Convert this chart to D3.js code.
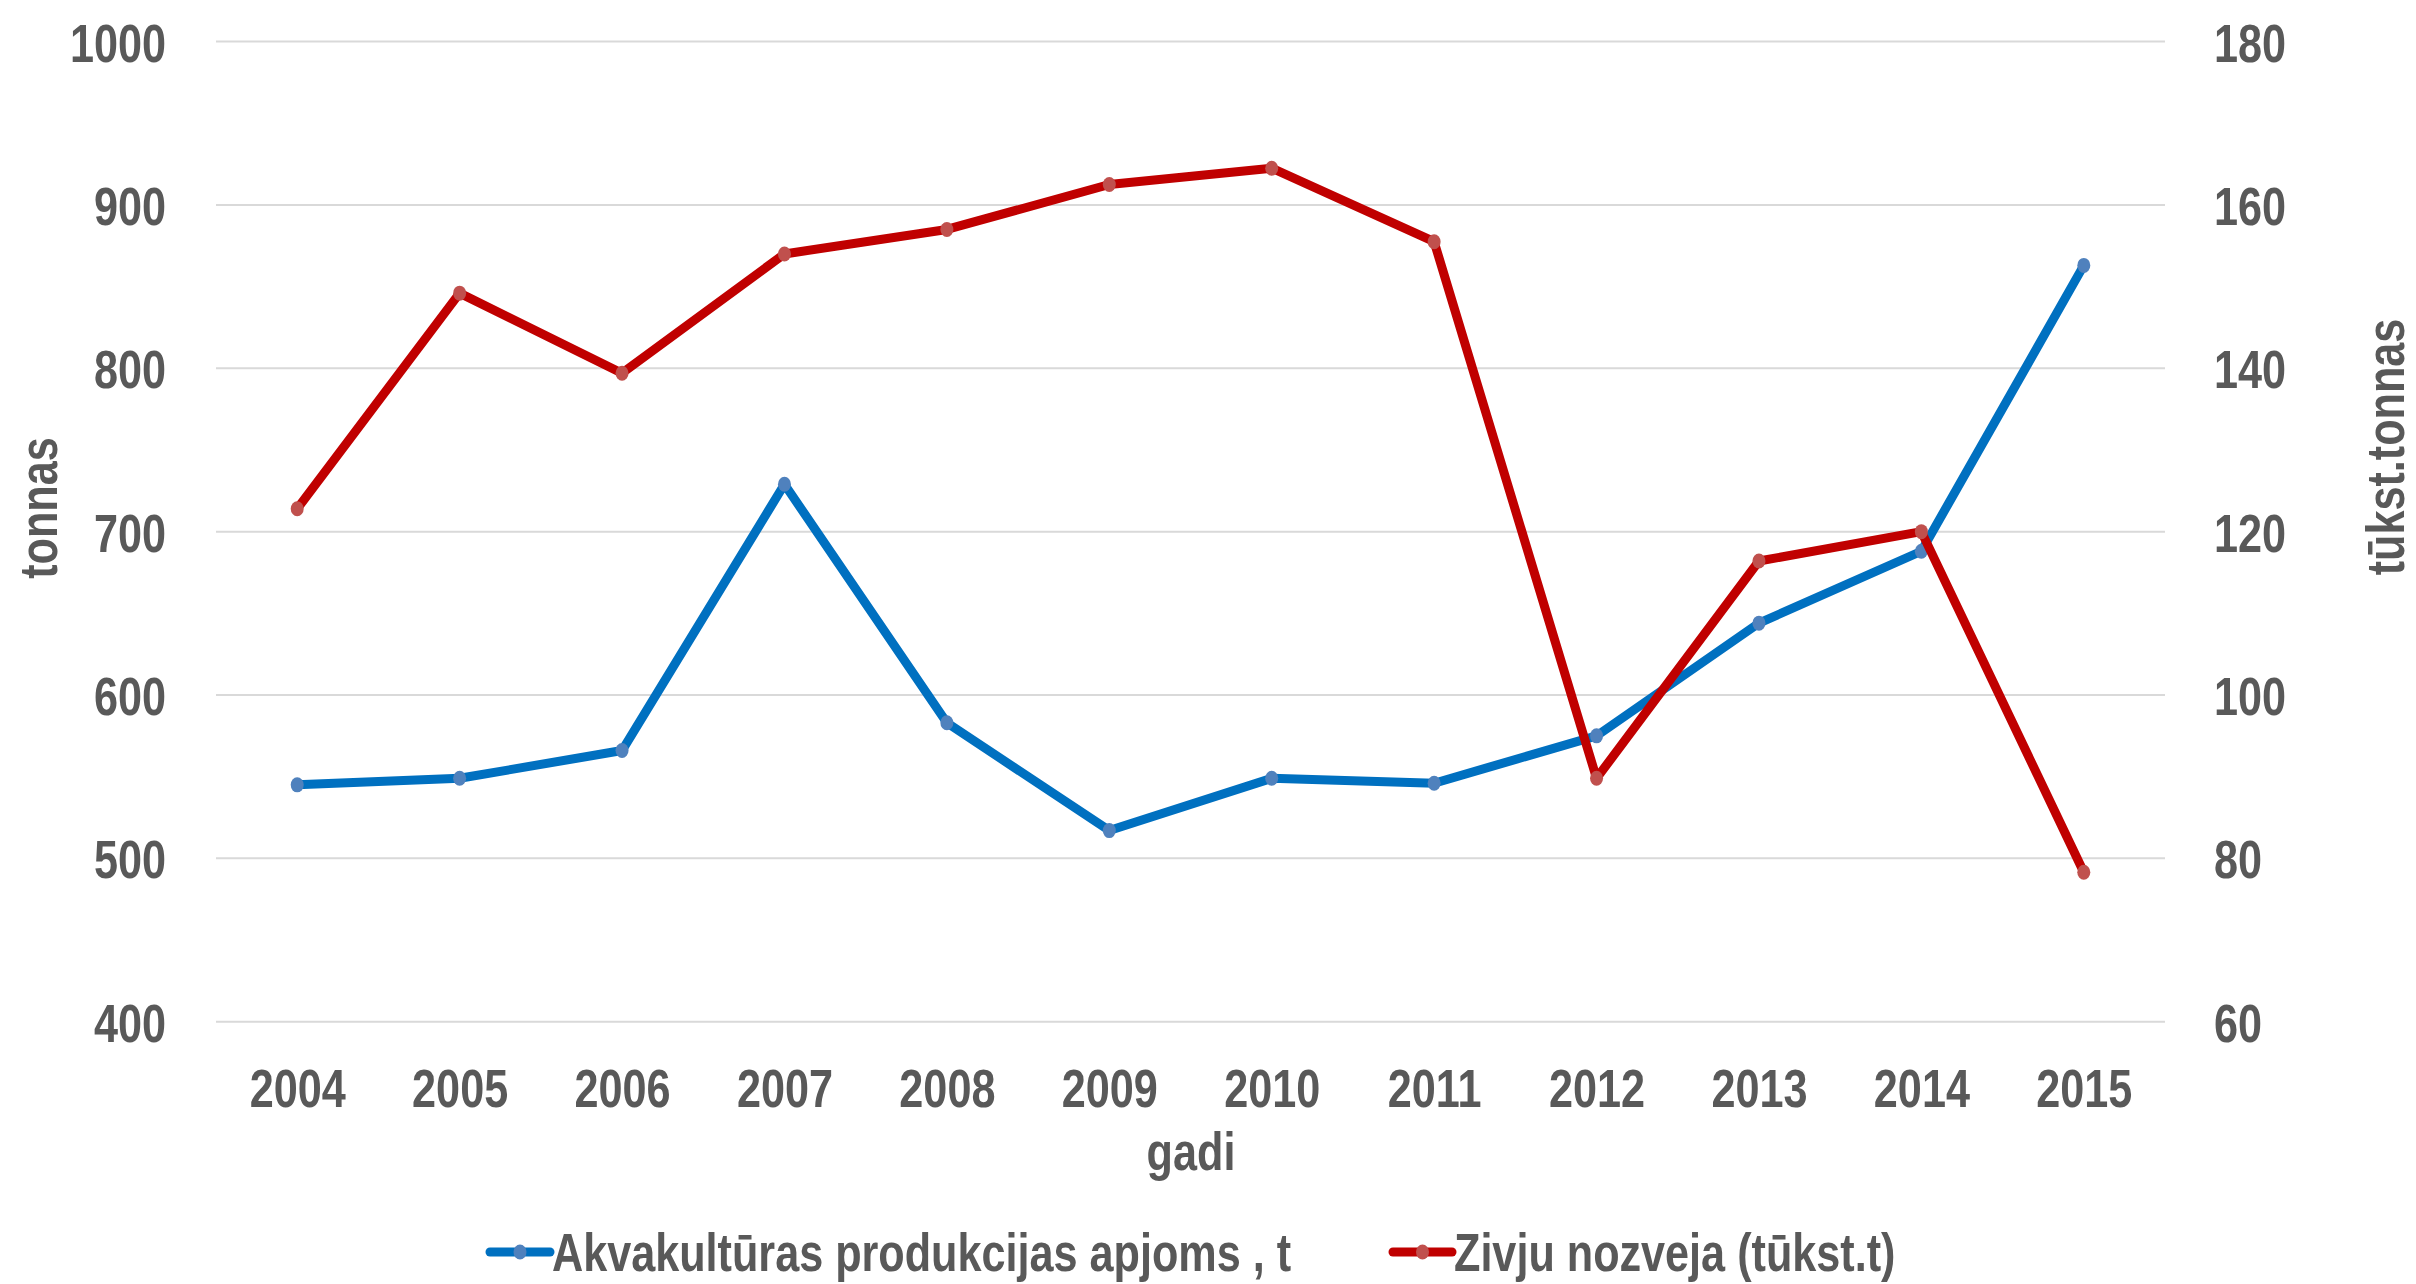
<!DOCTYPE html>
<html><head><meta charset="utf-8">
<script src="https://cdn.jsdelivr.net/npm/d3@7"></script>
<style>
html,body{margin:0;padding:0;background:#fff;}
svg text{font-family:"Liberation Sans",Arial,sans-serif;font-weight:bold;fill:#595959;}
</style></head>
<body>
<svg id="c" width="2416" height="1284"></svg>
<script>
const years = ["2004","2005","2006","2007","2008","2009","2010","2011","2012","2013","2014","2015"];
const aquaculture = [545, 549, 566, 729, 583, 517, 549, 546, 575, 644, 688, 863];
const fishCatch = [122.8, 149.2, 139.4, 154, 157, 162.5, 164.5, 155.5, 89.8, 116.4, 120, 78.3];
const leftTicks = [400, 500, 600, 700, 800, 900, 1000];
const rightTicks = [60, 80, 100, 120, 140, 160, 180];
const seriesNames = ["Akvakultūras produkcijas apjoms , t", "Zivju nozveja (tūkst.t)"];
const axisTitles = {left: "tonnas", right: "tūkst.tonnas", bottom: "gadi"};

const m = {left: 216, right: 2165, top: 41.6, bottom: 1021.7};
const SX = 0.8, FS = 54;
const svg = d3.select("#c");

const x = d3.scalePoint().domain(years).range([m.left, m.right]).padding(0.5);
const yL = d3.scaleLinear().domain([400, 1000]).range([m.bottom, m.top]);
const yR = d3.scaleLinear().domain([60, 180]).range([m.bottom, m.top]);

// gridlines
svg.append("g").selectAll("line").data(leftTicks).join("line")
  .attr("x1", m.left).attr("x2", m.right)
  .attr("y1", d => yL(d)).attr("y2", d => yL(d))
  .attr("stroke", "#d9d9d9").attr("stroke-width", 2);

// left axis
const gl = svg.append("g").attr("transform", `translate(166,0)`)
  .call(d3.axisLeft(yL).tickValues(leftTicks).tickFormat(d3.format("d")).tickSize(0).tickPadding(0));
gl.select(".domain").remove();
gl.selectAll("text").attr("x", 0).attr("dy", "0.36em")
  .attr("transform", `scale(${SX},1)`).style("font-size", FS + "px").attr("fill", "#595959");

// right axis
const gr = svg.append("g").attr("transform", `translate(2214,0)`)
  .call(d3.axisRight(yR).tickValues(rightTicks).tickFormat(d3.format("d")).tickSize(0).tickPadding(0));
gr.select(".domain").remove();
gr.selectAll("text").attr("x", 0).attr("dy", "0.36em")
  .attr("transform", `scale(${SX},1)`).style("font-size", FS + "px").attr("fill", "#595959");

// bottom axis
const gb = svg.append("g").attr("transform", `translate(0,1107)`)
  .call(d3.axisBottom(x).tickSize(0).tickPadding(0));
gb.select(".domain").remove();
gb.selectAll("text").attr("y", 0).attr("dy", "0")
  .attr("transform", `scale(${SX},1)`).style("font-size", FS + "px").attr("fill", "#595959");

// axis titles
svg.append("text").attr("transform", `translate(57,508) rotate(-90) scale(${SX},1)`)
  .attr("text-anchor", "middle").style("font-size", FS + "px").text(axisTitles.left);
svg.append("text").attr("transform", `translate(2404,447) rotate(-90) scale(${SX},1)`)
  .attr("text-anchor", "middle").style("font-size", FS + "px").text(axisTitles.right);
svg.append("text").attr("transform", `translate(1191,1170) scale(${SX},1)`)
  .attr("text-anchor", "middle").style("font-size", FS + "px").text(axisTitles.bottom);

// lines
const series = [
  {vals: aquaculture, y: yL, line: "#0070c0", mark: "#4f81bd"},
  {vals: fishCatch, y: yR, line: "#c00000", mark: "#c0504d"}
];
series.forEach(s => {
  const lg = d3.line().x((d, i) => x(years[i])).y(d => s.y(d));
  svg.append("path").attr("d", lg(s.vals)).attr("fill", "none")
    .attr("stroke", s.line).attr("stroke-width", 9).attr("stroke-linejoin", "round").attr("stroke-linecap", "round");
  svg.append("g").selectAll("ellipse").data(s.vals).join("ellipse")
    .attr("cx", (d, i) => x(years[i])).attr("cy", d => s.y(d))
    .attr("rx", 6.5).attr("ry", 7.5).attr("fill", s.mark);
});

// legend
const legendItems = [
  {x0: 490, x1: 550, tx: 552, name: seriesNames[0], s: series[0]},
  {x0: 1393, x1: 1452, tx: 1454, name: seriesNames[1], s: series[1]}
];
legendItems.forEach(l => {
  svg.append("line").attr("x1", l.x0).attr("x2", l.x1).attr("y1", 1252).attr("y2", 1252)
    .attr("stroke", l.s.line).attr("stroke-width", 9).attr("stroke-linecap", "round");
  svg.append("ellipse").attr("cx", (l.x0 + l.x1) / 2).attr("cy", 1252).attr("rx", 6.5).attr("ry", 7.5).attr("fill", l.s.mark);
  svg.append("text").attr("transform", `translate(${l.tx},1271) scale(${SX},1)`)
    .style("font-size", FS + "px").text(l.name);
});
</script>
</body></html>
